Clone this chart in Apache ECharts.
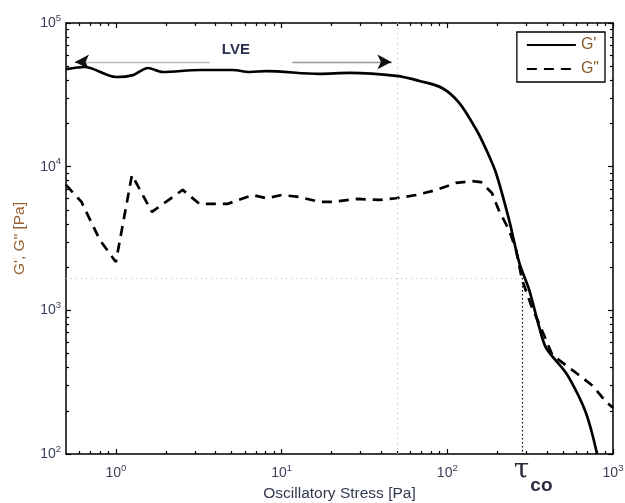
<!DOCTYPE html>
<html><head><meta charset="utf-8">
<script src="https://cdn.jsdelivr.net/npm/echarts@6/dist/echarts.min.js"></script>
<style>html,body{margin:0;padding:0;background:#fff}#c{width:625px;height:503px}</style>
</head><body><div id="c"></div>
<script>
// ---- data ----
const gPrimeStress = [0.5, 0.65, 1.0, 1.27, 1.56, 1.92, 3.2, 5.07, 6.4, 8.1, 16.9, 25.7, 49.3, 67.8, 93, 118, 150, 172, 197, 236, 272, 312, 358, 395, 521, 624, 687, 747, 801];
const gPrimeValues = [47800, 49400, 42100, 43400, 48600, 45600, 47100, 47100, 45600, 46300, 44200, 44900, 42800, 39500, 35300, 27800, 18000, 13100, 9000, 4260, 2140, 1390, 770, 547, 366, 250, 193, 140, 100];
const gDoubleStress = [0.5, 0.62, 0.80, 1.0, 1.25, 1.65, 2.53, 3.2, 4.7, 6.7, 8.1, 10, 12.8, 17, 20, 28.6, 39, 49, 65, 86, 113, 141, 160, 186, 204, 236, 260, 283, 324, 358, 373, 430, 600, 750, 910, 1000];
const gDoubleValues = [7460, 5680, 3090, 2170, 8750, 4840, 6890, 5500, 5500, 6350, 6030, 6350, 6150, 5680, 5680, 5960, 5870, 6030, 6350, 6890, 7710, 7940, 7800, 6560, 5010, 3620, 2630, 1620, 1050, 810, 725, 490, 366, 300, 230, 210];
const xRange = [0.5, 1000];
const yRange = [100, 100000];
const xMajorTicks = [1, 10, 100, 1000];
const yMajorTicks = [100, 1000, 10000, 100000];
const lveStress = 50;       // end of linear viscoelastic region
const tauCo = 283;          // crossover stress
const gCross = 1680;        // modulus at crossover
const lveArrowY = 53600;
const lveArrowLeft = [0.567, 3.68];
const lveArrowRight = [11.6, 46];
const lveLabelPos = [5.3, 65000];

const txt = '#3c4058';
const supRich = {b: {fontSize: 14, color: txt, fontFamily: 'Liberation Sans'}, s: {fontSize: 9.5, color: txt, fontFamily: 'Liberation Sans', padding: [0, 0, 10, 0]}};
function powLabel(v) { return '{b|10}{s|' + Math.round(Math.log10(v)) + '}'; }

function makeAxis(dim, pos, range, major, withLabels) {
  return {
    type: 'log', min: range[0], max: range[1], position: pos,
    splitLine: {show: false},
    axisLine: {show: true, lineStyle: {color: '#000', width: 1.5}},
    axisTick: {show: true, inside: true, length: 5, customValues: major, lineStyle: {color: '#000', width: 1.2}},
    minorTick: {show: true, splitNumber: 9, length: 3, lineStyle: {color: '#000', width: 1.2}},
    axisLabel: withLabels ? {show: true, customValues: major, formatter: powLabel, rich: supRich, margin: dim === 'x' ? 9 : 5} : {show: false}
  };
}

const xAxes = [makeAxis('x', 'bottom', xRange, xMajorTicks, true), makeAxis('x', 'top', xRange, xMajorTicks, false)];
const yAxes = [makeAxis('y', 'left', yRange, yMajorTicks, true), makeAxis('y', 'right', yRange, yMajorTicks, false)];
xAxes[0].name = 'Oscillatory Stress [Pa]';
xAxes[0].nameLocation = 'middle';
xAxes[0].nameGap = 32;
xAxes[0].nameTextStyle = {color: '#333850', fontSize: 15.5, fontFamily: 'Liberation Sans'};
yAxes[0].name = 'G\', G" [Pa]';
yAxes[0].nameLocation = 'middle';
yAxes[0].nameGap = 38;
yAxes[0].nameTextStyle = {color: '#9a6435', fontSize: 15.5, fontFamily: 'Liberation Sans'};

const zip = (a, b) => a.map((v, i) => [v, b[i]]);
const gray = '#b8b8b8';

const chart = echarts.init(document.getElementById('c'));
chart.setOption({
  animation: false,
  backgroundColor: '#fff',
  grid: {left: 66, top: 23, right: 12, bottom: 49, outerBoundsMode: 'none'},
  legend: {
    orient: 'vertical', right: 20, top: 32, itemWidth: 49, itemHeight: 14, itemGap: 8,
    borderColor: '#000', borderWidth: 1.3, padding: [5, 6, 5, 9], backgroundColor: '#fff',
    itemStyle: {opacity: 0},
    textStyle: {color: '#8a5a2a', fontSize: 16, fontFamily: 'Liberation Sans'},
    data: ['G\'', 'G"']
  },
  xAxis: xAxes,
  yAxis: yAxes,
  series: [
    {
      name: 'annot', type: 'line', data: [], xAxisIndex: 0, yAxisIndex: 0, silent: true,
      markLine: {
        silent: true, symbol: ['none', 'none'], animation: false,
        label: {show: false},
        data: [
          [{coord: [lveStress, yRange[0]], lineStyle: {color: gray, type: [1, 4], width: 1}}, {coord: [lveStress, yRange[1]]}],
          [{coord: [xRange[0], gCross], lineStyle: {color: gray, type: [1, 4], width: 1}}, {coord: [tauCo, gCross]}],
          [{coord: [tauCo, gCross], lineStyle: {color: '#000', type: [1.5, 2.5], width: 1.2},
            label: {show: true, position: 'end', distance: 3, formatter: '{t|τ}{s|co}', padding: [0, 0, 0, 22],
              rich: {t: {fontSize: 28, color: '#2a2c40', fontFamily: 'DejaVu Serif', lineHeight: 26, verticalAlign: 'top'},
                     s: {fontSize: 19, color: '#2a2c40', fontFamily: 'Liberation Sans', fontWeight: 'bold', padding: [19, 0, 0, 1], verticalAlign: 'top'}}}},
           {coord: [tauCo, yRange[0]]}],
          [{coord: [lveArrowLeft[0], lveArrowY], lineStyle: {color: '#bbb', type: 'solid', width: 1.3}}, {coord: [lveArrowLeft[1], lveArrowY]}],
          [{coord: [lveArrowRight[0], lveArrowY], lineStyle: {color: '#999', type: 'solid', width: 1.3}}, {coord: [lveArrowRight[1], lveArrowY]}],
          [{coord: [lveArrowLeft[0], lveArrowY], symbol: 'arrow', symbolSize: [11, 14], lineStyle: {color: '#111', width: 1}}, {coord: [lveArrowLeft[0] * 1.05, lveArrowY], symbol: 'none'}],
          [{coord: [lveArrowRight[1] / 1.05, lveArrowY], symbol: 'none', lineStyle: {color: '#111', width: 1}}, {coord: [lveArrowRight[1], lveArrowY], symbol: 'arrow', symbolSize: [11, 14]}]
        ]
      },
      markPoint: {
        silent: true, symbol: 'circle', symbolSize: 0,
        label: {show: true, position: 'inside', formatter: 'LVE', color: '#2a3050', fontSize: 15, fontWeight: 'bold', fontFamily: 'Liberation Sans'},
        data: [{coord: lveLabelPos}]
      }
    },
    {
      name: 'G\'', type: 'line', data: zip(gPrimeStress, gPrimeValues), xAxisIndex: 0, yAxisIndex: 0,
      symbol: 'none', smooth: 0.3, lineStyle: {color: '#000', width: 2.7}, itemStyle: {color: '#000'}, z: 5
    },
    {
      name: 'G"', type: 'line', data: zip(gDoubleStress, gDoubleValues), xAxisIndex: 0, yAxisIndex: 0,
      symbol: 'none', lineStyle: {color: '#000', width: 2.7, type: [10, 7]}, itemStyle: {color: '#000'}, z: 4
    }
  ]
});
</script>
</body></html>
